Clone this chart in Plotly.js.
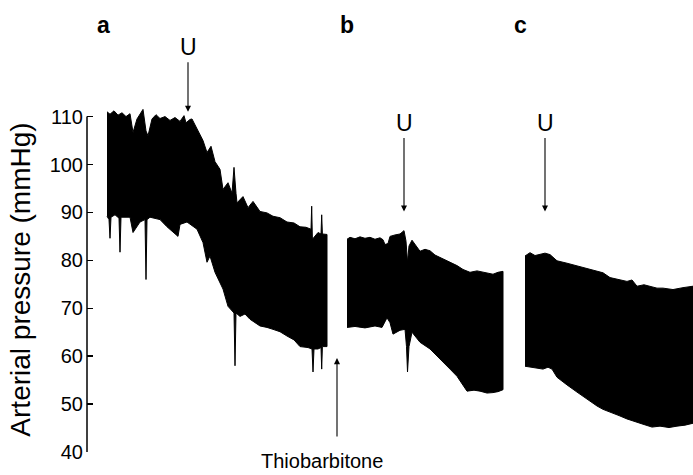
<!DOCTYPE html>
<html>
<head>
<meta charset="utf-8">
<script src="https://cdn.plot.ly/plotly-3.0.1.min.js"></script>
<style>html,body{margin:0;padding:0;background:#fff;}</style>
</head>
<body>
<div id="chart" style="width:693px;height:475px;"></div>
<script>
// Time axis in arbitrary recording units; pressure in mmHg
// Segment a
const aUpperT = [20,23,27,31,35,39,43,46,50,56,59,61,65,69,73,78,83,88,93,97,99,103,105,110,116,120,124,128,133,136,141,145,147,149,150,156,161,166,173,180,186,193,200,207,213,219,224,224.7,225.4,231,234,234.7,235.4,240];
const aUpperP = [111.0,110.5,111.2,110.3,110.8,110.0,110.6,106.7,109.5,111.5,107,106,109.5,110.4,109.6,110.0,109.2,109.8,109.0,110.2,108.7,109.4,109.5,107.3,105,102.5,103.8,100.6,99,94.8,96.2,94,99.4,94,92,93.3,91,92.3,90.2,89.9,89.2,88.9,88,87.8,87,86.9,86.5,91.3,84.4,85.8,85.5,89.5,85.5,85.4];
const aLowerT = [20,22,23,24,28,32,33,34,43,46,53,58,59,60,63,73,80,91,93,100,110,116,120,123,128,136,141,147,148,149,153,158,163,168,173,180,186,193,200,207,213,221,225,226,227,231,234,234.7,235.4,240];
const aLowerP = [89.2,88.5,84.6,89,89.5,88.8,81.7,89,89,85.8,88,88.5,76,88.5,89,88.5,87,85,87.5,88,86.5,83.7,79.6,80.9,77.5,74,70.4,69,58,69,68.3,68.8,67.7,67.0,66.3,66.0,65.6,65.1,64.2,63.4,62,61.8,61.5,56.7,61.5,61.5,61.8,57.3,62,62];
// Segment b
const bUpperT = [260,263,268,273,278,283,288,293,296,298,301,303,308,313,317,319,320.5,322,325,333,338,343,348,353,358,363,370,376,383,390,396,401,406,411,416];
const bUpperP = [84.4,84.8,84.5,84.9,84.6,84.8,84.4,84.7,84.3,83.3,83.5,85,85.3,85.5,86.2,84,79.6,83,84.2,81.9,82.3,82,81.1,80.6,80.2,79.6,78.9,78.1,77.5,77.8,77.5,77.2,77.1,77.5,77.7];
const bLowerT = [260,268,278,288,295,300,303,306,313,318,319.5,320.5,322,325,333,343,350,356,363,370,375,380,387,393,400,406,411,416];
const bLowerP = [66,66.2,65.9,66.3,66,68,67,64.6,65.4,65.6,62,56.7,62,65,62.9,61.5,60.0,58.7,57.3,55.8,54.3,52.7,52.9,52.7,52.3,52.4,52.6,53];
// Segment c
const cUpperT = [438,443,448,453,458,463,470,480,490,500,510,516,523,532,540,545,550,557,563,570,576,586,596,606];
const cUpperP = [80.9,81.6,81.0,81.3,81.5,81.2,79.9,79.4,78.8,78.3,77.7,77.4,76.4,76.0,75.6,75.9,74.6,74.9,74.6,74.2,74.2,73.9,74.3,74.6];
const cLowerT = [438,448,456,461,465,470,480,490,500,510,516,523,532,540,548,556,565,573,582,590,598,606];
const cLowerP = [57.9,57.6,57.3,57.7,57.3,55.6,54.0,52.5,51.0,49.6,48.9,48.3,47.6,46.9,46.3,45.8,45.2,45.4,45.1,45.4,45.6,46];

const yTicks = [40,50,60,70,80,90,100,110];
const panelLabels = ['a','b','c'];
const panelT = [16,260,433];

function band(ut, up, lt, lp){
  return {
    x: ut.concat(lt.slice().reverse()),
    y: up.concat(lp.slice().reverse()),
    type: 'scatter', mode: 'lines', fill: 'toself',
    fillcolor: '#000', line: {color: '#000', width: 1},
    hoverinfo: 'skip', showlegend: false
  };
}

const data = [
  band(aUpperT, aUpperP, aLowerT, aLowerP),
  band(bUpperT, bUpperP, bLowerT, bLowerP),
  band(cUpperT, cUpperP, cLowerT, cLowerP)
];

const font = 'Liberation Sans, Arial, Helvetica, sans-serif';
const annotations = [];
panelLabels.forEach((lab, i) => {
  annotations.push({x: panelT[i], y: 1.238, xref: 'x', yref: 'paper', text: '<b>' + lab + '</b>',
    showarrow: false, font: {family: font, size: 23, color: '#000'}, xanchor: 'center', yanchor: 'middle'});
});
// U markers
const uT = [101, 317, 458];
const uTip = [111.0, 90.2, 90.2];
const uTextY = [1.174, 0.954, 0.954];
const uAy = [-51, -75, -75];
for (let i = 0; i < 3; i++) {
  annotations.push({x: uT[i], y: uTextY[i], xref: 'x', yref: 'paper', text: 'U', showarrow: false,
    font: {family: font, size: 23, color: '#000'}, xanchor: 'center', yanchor: 'middle'});
  annotations.push({x: uT[i], y: uTip[i], xref: 'x', yref: 'y', text: '', showarrow: true,
    ax: 0, ay: uAy[i], arrowhead: 2, arrowsize: 1.1, arrowwidth: 1.1, arrowcolor: '#000', standoff: 0});
}
annotations.push({x: 235, y: -0.0638, xref: 'x', yref: 'paper', text: 'Thiobarbitone', showarrow: false,
  font: {family: font, size: 20, color: '#000'}, xanchor: 'center', yanchor: 'bottom'});
annotations.push({x: 250, y: 59.6, xref: 'x', yref: 'y', text: '', showarrow: true,
  ax: 0, ay: 80, arrowhead: 2, arrowsize: 1.1, arrowwidth: 1.1, arrowcolor: '#000', standoff: 0});

const layout = {
  width: 693, height: 475,
  margin: {l: 87, r: 0, t: 107, b: 23, pad: 0},
  paper_bgcolor: '#fff', plot_bgcolor: '#fff',
  showlegend: false,
  xaxis: {range: [0, 606], visible: false, fixedrange: true},
  yaxis: {
    range: [40, 112], tickvals: yTicks, ticktext: yTicks.map(String),
    ticks: 'inside', ticklen: 6, tickwidth: 1.5, tickcolor: '#000',
    showline: false, showgrid: false, zeroline: false,
    tickfont: {family: font, size: 20, color: '#000'}, ticklabelstandoff: 3,
    title: {text: 'Arterial pressure (mmHg)', font: {family: font, size: 28, color: '#000'}, standoff: 10},
    automargin: false, fixedrange: true
  },
  shapes: [{type: 'line', xref: 'paper', yref: 'y', x0: 0, x1: 0, y0: 40, y1: 110,
    line: {color: '#000', width: 1.5}}],
  annotations: annotations
};

Plotly.newPlot('chart', data, layout, {staticPlot: true, displayModeBar: false});
</script>
</body>
</html>
